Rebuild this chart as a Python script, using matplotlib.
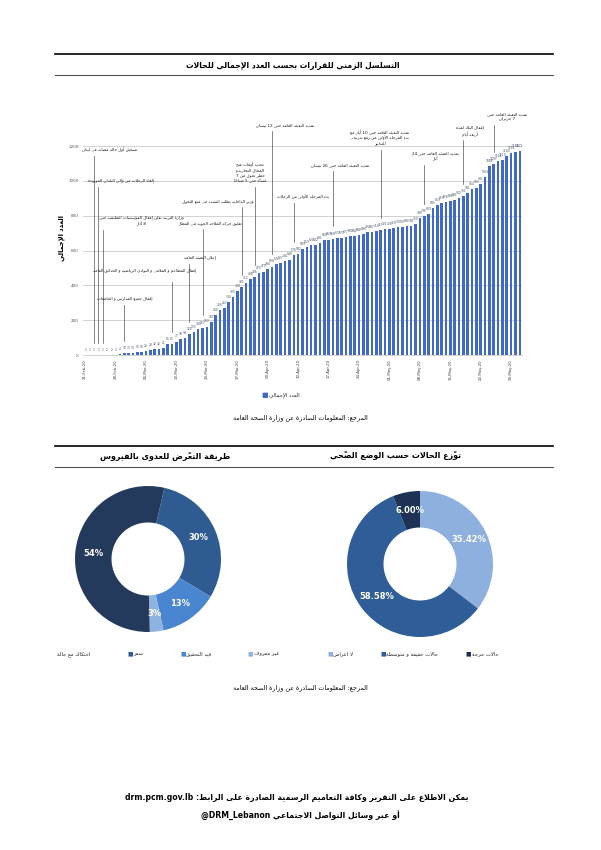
import string
import numpy as np
import pandas as pd
import matplotlib
matplotlib.use("Agg")
import matplotlib.pyplot as plt
from matplotlib.lines import Line2D

plt.rcParams['font.family'] = ['DejaVu Sans']

# ---- data ----
cases = [1, 1, 1, 1, 1, 2, 2, 2, 4, 10,
         13, 13, 15, 16, 22, 28, 32, 32, 41, 61,
         61, 77, 93, 99, 120, 133, 149, 157, 163, 187,
         230, 256, 267, 304, 333, 368, 391, 412, 438, 446,
         470, 479, 494, 508, 520, 527, 541, 548, 576, 582,
         609, 619, 630, 632, 641, 658, 663, 668, 672, 673,
         677, 681, 682, 688, 696, 704, 707, 710, 717, 721,
         725, 729, 733, 737, 740, 741, 750, 784, 796, 809,
         845, 859, 870, 878, 886, 891, 902, 911, 931, 954,
         961, 981, 1024, 1086, 1097, 1114, 1119, 1140, 1161, 1168,
         1172]
dates = pd.date_range('2020-02-21', periods=len(cases), freq='D')
date_labels = [d.strftime('%d-%b-%y') for d in dates]

# decision callouts: bar index of each event and its text
event_idx = [2, 3, 4, 9, 20, 24, 27, 36, 39, 43, 48, 57, 68, 78, 87, 94]
event_txt = [
    'تسجيل أول حالة مصابة في لبنان',
    'إلغاء الرحلات من وإلى البلدان الموبوءة',
    'وزارة التربية تعلن إقفال المؤسسات التعليمية حتى\n8 آذار',
    'إقفال جميع المدارس و الجامعات',
    'إقفال المطاعم و الملاهي و النوادي الرياضية و الحدائق العامة\n...',
    'إعلان التعبئة العامة',
    'تعليق حركة الملاحة الجوية في المطار',
    'وزير الداخلية يطلب التشدد في منع التجول',
    'تحديد أوقات فتح\nالمحال التجارية و\nحظر تجول من 7\nمساءً حتى 5 صباحاً',
    'تمديد التعبئة العامة حتى 12 نيسان',
    'بدء المرحلة الأولى من الرحلات',
    'تمديد التعبئة العامة حتى 26 نيسان',
    'تمديد التعبئة العامة حتى 10 أيار مع\nبدء المرحلة الأولى من رفع تدريجي\nللتدابير',
    'تمديد التعبئة العامة حتى 24\nأيار',
    'إقفال البلاد لمدة\nأربعة أيام',
    'تمديد التعبئة العامة حتى\n7 حزيران',
]
# where each callout text sits (bar index, value)
event_pos = [(5.7, 1177), (8.3, 999), (12.9, 769), (9.2, 321), (13.6, 471),
             (26.4, 557), (28.7, 758), (30.6, 884), (37.9, 1050), (46.0, 1320),
             (50.1, 907), (58.6, 1091), (67.8, 1246), (80.5, 1142), (88.5, 1286),
             (97.0, 1370)]

exposure_labels = ['سفر', 'قيد التحقيق', 'غير معروف', 'احتكاك مع حالة']
exposure_pct = [30, 13, 3, 54]
exposure_colors = ['#2e5b92', '#4a86cf', '#8fb3e0', '#243a5c']

health_labels = ['لا اعراض', 'حالات خفيفة و متوسطة', 'حالات حرجة']
health_pct = [35.42, 58.58, 6.00]
health_colors = ['#8db0df', '#2f5d98', '#1d3255']

# ---- minimal Arabic shaping + right-to-left ordering ----
_FORMS = {c: (b, n) for c, b, n in [
    ('ء', 0xFE80, 1), ('آ', 0xFE81, 2), ('أ', 0xFE83, 2), ('ؤ', 0xFE85, 2),
    ('إ', 0xFE87, 2), ('ئ', 0xFE89, 4), ('ا', 0xFE8D, 2), ('ب', 0xFE8F, 4),
    ('ة', 0xFE93, 2), ('ت', 0xFE95, 4), ('ث', 0xFE99, 4), ('ج', 0xFE9D, 4),
    ('ح', 0xFEA1, 4), ('خ', 0xFEA5, 4), ('د', 0xFEA9, 2), ('ذ', 0xFEAB, 2),
    ('ر', 0xFEAD, 2), ('ز', 0xFEAF, 2), ('س', 0xFEB1, 4), ('ش', 0xFEB5, 4),
    ('ص', 0xFEB9, 4), ('ض', 0xFEBD, 4), ('ط', 0xFEC1, 4), ('ظ', 0xFEC5, 4),
    ('ع', 0xFEC9, 4), ('غ', 0xFECD, 4), ('ف', 0xFED1, 4), ('ق', 0xFED5, 4),
    ('ك', 0xFED9, 4), ('ل', 0xFEDD, 4), ('م', 0xFEE1, 4), ('ن', 0xFEE5, 4),
    ('ه', 0xFEE9, 4), ('و', 0xFEED, 2), ('ى', 0xFEEF, 2), ('ي', 0xFEF1, 4)]}
_LAMALEF = {'آ': 0xFEF5, 'أ': 0xFEF7, 'إ': 0xFEF9, 'ا': 0xFEFB}
_LTR = set('0123456789.%@_' + string.ascii_letters)


def _jn(k):
    return k == 'ـ' or (k in _FORMS and _FORMS[k][1] == 4)


def _jp(k):
    return k == 'ـ' or len(k) == 2 or (k in _FORMS and _FORMS[k][1] >= 2)


def _line(text):
    cl = []
    for ch in text:
        if '\u064b' <= ch <= '\u0652' and cl:
            cl[-1][1] += ch
        elif cl and cl[-1][0] == 'ل' and ch in _LAMALEF:
            cl[-1][0] = 'ل' + ch
        else:
            cl.append([ch, ''])
    keys = [k for k, _ in cl]
    tokens = []
    for i, k in enumerate(keys):
        prev = i > 0 and _jn(keys[i - 1]) and _jp(k)
        nxt = i < len(keys) - 1 and _jn(k) and _jp(keys[i + 1])
        if len(k) == 2:
            g = chr(_LAMALEF[k[1]] + (1 if prev else 0))
        elif k in _FORMS:
            base, n = _FORMS[k]
            if n == 4:
                off = 3 if (prev and nxt) else 2 if nxt else 1 if prev else 0
            elif n == 2:
                off = 1 if prev else 0
            else:
                off = 0
            g = chr(base + off)
        else:
            g = k
        g += cl[i][1]
        if g[0] in _LTR and tokens and tokens[-1][0] in _LTR:
            tokens[-1] += g
        else:
            tokens.append(g)
    return ''.join(reversed(tokens))


def ar(text):
    return '\n'.join(_line(t) for t in text.split('\n'))


# ---- page ----
W, H = 601, 850
fig = plt.figure(figsize=(W / 100, H / 100), dpi=100)
fig.patch.set_facecolor('white')


def px(x, y):
    return x / W, 1 - y / H


def hline(y, x0=55, x1=553, lw=1.0, color='black'):
    fig.add_artist(Line2D([x0 / W, x1 / W], [1 - y / H] * 2, color=color, lw=lw))


def ftext(x, y, s, **kw):
    fig.text(*px(x, y), s, ha=kw.pop('ha', 'center'), va=kw.pop('va', 'center'), **kw)


hline(54, lw=1.2)
hline(75, lw=0.8, color='#555555')
ftext(293, 65, ar('التسلسل الزمني للقرارات بحسب العدد الإجمالي للحالات'),
      fontsize=5.5, fontweight='bold')

# ---- timeline bar chart ----
ax = fig.add_axes([83 / W, 1 - 355 / H, 439 / W, 209 / H])
x = np.arange(len(cases))
ax.bar(x, cases, width=0.6, color='#4169c8', zorder=2)
ax.set_xlim(-0.5, len(cases) - 0.5)
ax.set_ylim(0, 1200)
ax.set_yticks(range(0, 1201, 200))
ax.tick_params(axis='y', labelsize=3, colors='#595959', length=0, pad=3)
ax.grid(axis='y', color='#bfbfbf', lw=0.5, zorder=0)
ax.set_xticks(x[::7])
ax.set_xticklabels(date_labels[::7], rotation=90, fontsize=2.8, color='#404040')
ax.tick_params(axis='x', length=0, pad=3)
for s in ['top', 'right', 'left']:
    ax.spines[s].set_visible(False)
ax.spines['bottom'].set_color('#bfbfbf')
ax.spines['bottom'].set_linewidth(0.5)
for xi, v in zip(x, cases):
    ax.text(xi, v + 18, str(v), fontsize=2.2, color='#44546a', ha='center',
            va='bottom', zorder=3, clip_on=False)

for idx, txt, (tx, ty) in zip(event_idx, event_txt, event_pos):
    nlines = txt.count('\n') + 1
    top = ty - nlines * 17 - 18
    ax.plot([idx, idx], [cases[idx] + 70, top], color='#404040', lw=0.45,
            zorder=4, clip_on=False)
    ax.text(tx, ty, ar(txt), fontsize=3.0, color='#1a1a1a', ha='center',
            va='center', ma='center', linespacing=1.25, zorder=5, clip_on=False)

ftext(62, 238, ar('العدد الإجمالي'), fontsize=4.8, fontweight='bold', rotation=90)
ftext(265, 395, '■', fontsize=5, color='#4169c8')
ftext(269, 395, ar('العدد الإجمالي'), fontsize=3.8, ha='left', color='#262626')

ftext(300, 418, ar('المرجع: المعلومات الصادرة عن وزارة الصحة العامة'), fontsize=4.6)

# ---- second band titles ----
hline(446, lw=1.2)
hline(467, lw=0.8, color='#555555')
ftext(165, 456, ar('طريقة التعرّض للعدوى بالفيروس'), fontsize=5.8, fontweight='bold')
ftext(396, 456, ar('توزّع الحالات حسب الوضع الصحّي'), fontsize=5.8, fontweight='bold')


def donut(cx, cy, vals, colors, start, labels_fmt):
    r = 80
    a = fig.add_axes([(cx - r) / W, 1 - (cy + r) / H, 2 * r / W, 2 * r / H])
    a.pie(vals, colors=colors, startangle=start, counterclock=False,
          radius=1.0, wedgeprops=dict(width=0.5, edgecolor='none'))
    ang = start
    for v, lab in zip(vals, labels_fmt):
        mid = np.deg2rad(ang - v / sum(vals) * 180)
        a.text(0.75 * np.cos(mid), 0.75 * np.sin(mid), lab, color='white',
               fontsize=6, fontweight='bold', ha='center', va='center')
        ang -= v / sum(vals) * 360
    lim = r / 73
    a.set_xlim(-lim, lim)
    a.set_ylim(-lim, lim)
    a.set_aspect('equal')
    a.axis('off')


donut(148, 559, exposure_pct, exposure_colors, 77, [f'{v}%' for v in exposure_pct])
donut(420, 564, health_pct, health_colors, 90, [f'{v:.2f}%' for v in health_pct])

# legends (square left of the label), as laid out on the page
ftext(57, 654, ar(exposure_labels[3]), fontsize=3.8, ha='left', color='#262626')
legend_items = [(130, exposure_labels[0], exposure_colors[0]),
                (183, exposure_labels[1], exposure_colors[1]),
                (250, exposure_labels[2], exposure_colors[2]),
                (330, health_labels[0], health_colors[0]),
                (383, health_labels[1], health_colors[1]),
                (468, health_labels[2], health_colors[2])]
for lx, lab, col in legend_items:
    ftext(lx, 654, '■', fontsize=4.2, color=col)
    ftext(lx + 3.5, 654, ar(lab), fontsize=3.8, ha='left', color='#262626')

ftext(300, 688, ar('المرجع: المعلومات الصادرة عن وزارة الصحة العامة'), fontsize=4.6)

# ---- footer ----
ftext(297, 797, ar('يمكن الاطلاع على التقرير وكافة التعاميم الرسمية الصادرة على الرابط: drm.pcm.gov.lb'),
      fontsize=5.6, fontweight='bold')
ftext(300, 815, ar('أو عبر وسائل التواصل الاجتماعي @DRM_Lebanon'),
      fontsize=5.6, fontweight='bold')

fig.savefig('out.png', dpi=100, facecolor='white')
